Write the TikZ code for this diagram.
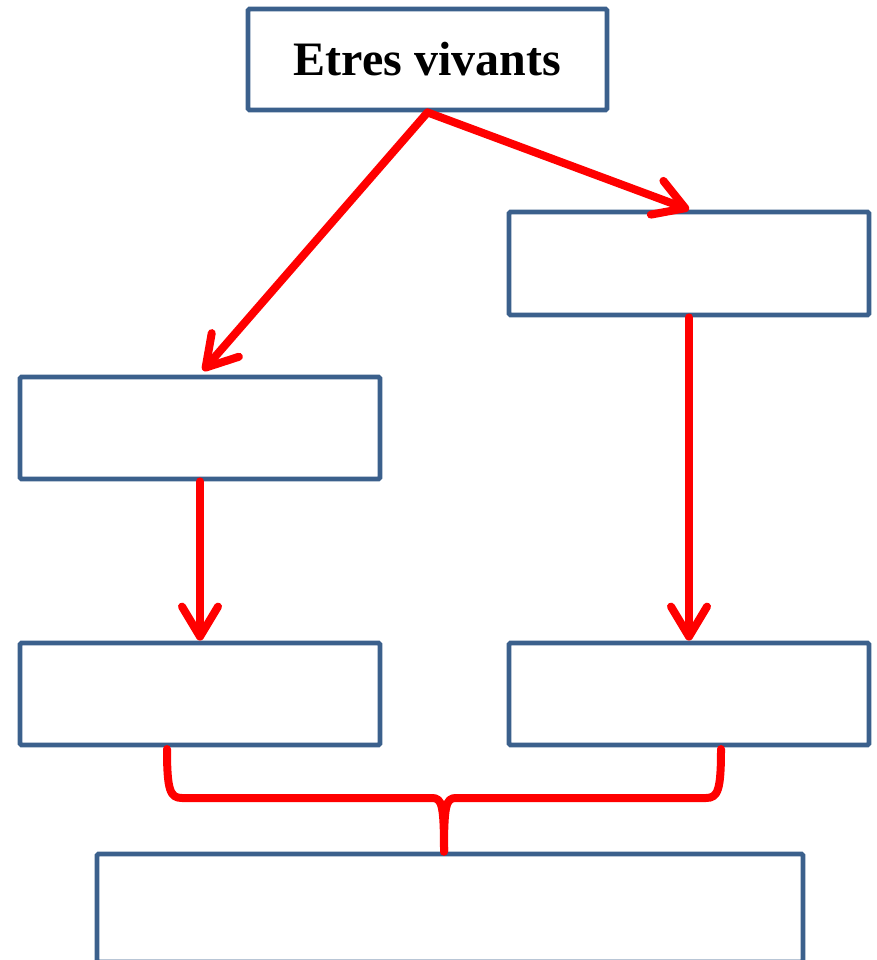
\documentclass[tikz,border=0pt]{standalone}
\usepackage{fontspec}
\setmainfont{Liberation Serif}
\usetikzlibrary{arrows.meta,calc}
\definecolor{boxblue}{RGB}{59,96,140}
\definecolor{arrowred}{RGB}{255,0,0}
\begin{document}
\begin{tikzpicture}[x=1pt,y=-1pt,
  box/.style={draw=boxblue,line width=4.8pt,fill=white,rounded corners=1.5pt,inner sep=0pt,minimum width=360pt,minimum height=102pt},
  redarrow/.style={draw=arrowred,line width=8pt,line cap=round,-{Straight Barb[length=30pt,width=36pt,round]}},
  redline/.style={draw=arrowred,line width=8pt,line cap=round,line join=round}]
\useasboundingbox (0,0) rectangle (877,960);
\node[box,minimum width=359pt,minimum height=101pt,font=\fontsize{48}{57}\selectfont\bfseries] (top) at (427.5,59.5) {Etres vivants};
\node[box,minimum height=103pt] (rm) at (689,263.5) {};
\node[box] (lm) at (200,428) {};
\node[box] (bl) at (200,694) {};
\node[box] (br) at (689,694) {};
\node[box,minimum width=706pt,minimum height=108pt] (bot) at (450,908) {};
\draw[redarrow] (top.south) -- ($(lm.north)+(3,-4)$);
\draw[redarrow] (top.south) -- (rm.north);
\draw[redarrow] (lm.south) -- (bl.north);
\draw[redarrow] (rm.south) -- (br.north);
\coordinate (bL) at (167,749);
\coordinate (bR) at (721,749);
\coordinate (bM) at (bot.north -| 444,0);
\draw[redline] (bL) .. controls (167,790) and (170,798) .. (182,798) -- (432,798) .. controls (442,798) and (444,805) .. (bM);
\draw[redline] (bR) .. controls (721,790) and (718,798) .. (706,798) -- (456,798) .. controls (446,798) and (444,805) .. (bM);
\end{tikzpicture}
\end{document}
